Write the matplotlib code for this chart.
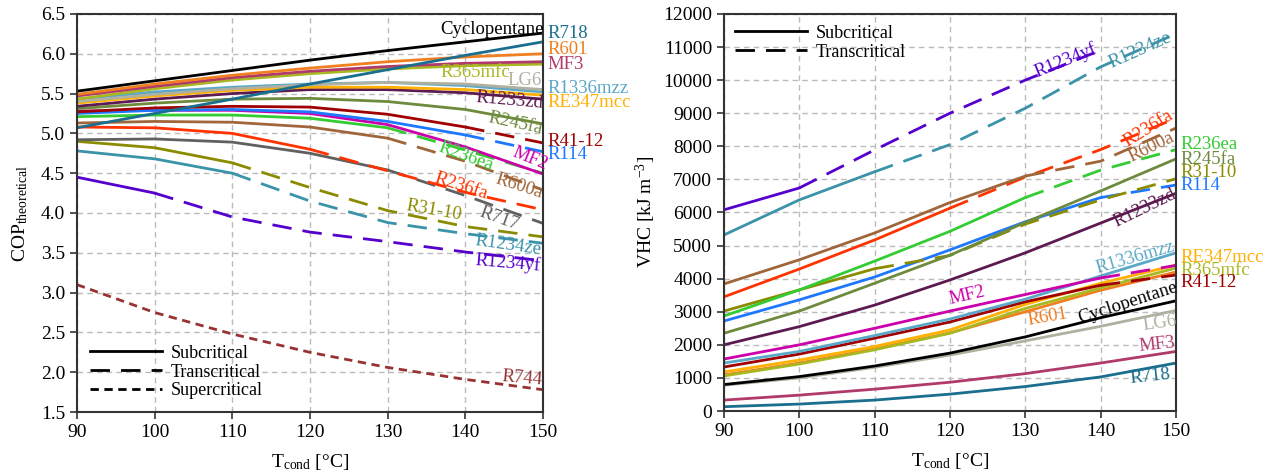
import numpy as np
import matplotlib
matplotlib.use("Agg")
from matplotlib import pyplot as plt

plt.rcParams["font.family"] = ["Liberation Serif", "DejaVu Serif"]
plt.rcParams["mathtext.fontset"] = "custom"
plt.rcParams["mathtext.rm"] = "Liberation Serif"
plt.rcParams["mathtext.it"] = "Liberation Serif:italic"
plt.rcParams["font.size"] = 14

# Temperaturas de condensação
t_cond = [90, 100, 110, 120, 130, 140, 150]

# COP teórico
cop_cyclopentane = [5.53, 5.66, 5.79, 5.92, 6.04, 6.15, 6.26]
cop_r718 = [5.07, 5.25, 5.43, 5.62, 5.80, 5.98, 6.15]
cop_r601 = [5.49, 5.62, 5.73, 5.82, 5.90, 5.96, 6.00]
cop_mf3 = [5.47, 5.59, 5.70, 5.78, 5.84, 5.88, 5.90]
cop_r365mfc = [5.43, 5.56, 5.67, 5.75, 5.81, 5.85, 5.87]
cop_lg6 = [5.40, 5.49, 5.56, 5.61, 5.64, 5.62, 5.55]
cop_r1336mzz = [5.43, 5.52, 5.58, 5.62, 5.64, 5.60, 5.52]
cop_re347mcc = [5.38, 5.47, 5.54, 5.58, 5.58, 5.55, 5.48]
cop_r1233zd = [5.34, 5.43, 5.50, 5.55, 5.55, 5.51, 5.43]
cop_r245fa = [5.31, 5.38, 5.43, 5.44, 5.40, 5.30, 5.12]
cop_r41_12 = [5.27, 5.32, 5.34, 5.33, 5.24, 5.08, 4.88]
cop_r114 = [5.25, 5.29, 5.30, 5.27, 5.15, 4.98, 4.77]
cop_mf2 = [5.28, 5.29, 5.29, 5.25, 5.11, 4.83, 4.49]
cop_r236ea = [5.21, 5.23, 5.23, 5.19, 5.07, 4.79, 4.50]
cop_r600a = [5.13, 5.15, 5.14, 5.08, 4.94, 4.65, 4.29]
cop_r236fa = [5.08, 5.07, 5.00, 4.80, 4.53, 4.26, 4.04]
cop_r717 = [4.92, 4.93, 4.89, 4.75, 4.54, 4.22, 3.87]
cop_r31_10 = [4.90, 4.82, 4.63, 4.32, 4.03, 3.83, 3.70]
cop_r1234ze = [4.78, 4.68, 4.50, 4.15, 3.88, 3.74, 3.62]
cop_r1234yf = [4.45, 4.25, 3.95, 3.76, 3.64, 3.51, 3.40]
cop_r744 = [3.10, 2.75, 2.48, 2.25, 2.06, 1.91, 1.78]

# Capacidade volumétrica de aquecimento [kJ/m3]
vhc_r1234yf = [6080, 6740, 7890, 9000, 10000, 10900, np.nan]
vhc_r1234ze = [5320, 6380, 7230, 8050, 9150, 10400, 11400]
vhc_r600a = [3840, 4570, 5380, 6300, 7100, 7550, 8550]
vhc_r236fa = [3450, 4290, 5170, 6130, 7070, 7900, 8850]
vhc_r236ea = [2870, 3660, 4530, 5430, 6450, 7280, 7900]
vhc_r245fa = [2350, 3020, 3860, 4710, 5700, 6650, 7620]
vhc_r31_10 = [3020, 3660, 4300, 4700, 5650, 6380, 7020]
vhc_r114 = [2720, 3360, 4050, 4870, 5720, 6450, 6830]
vhc_r1233zd = [2000, 2550, 3200, 3960, 4780, 5680, 6580]
vhc_mf2 = [1570, 2000, 2500, 3020, 3520, 4020, 4400]
vhc_r1336mzz = [1450, 1800, 2280, 2780, 3380, 4080, 4780]
vhc_r41_12 = [1330, 1720, 2200, 2690, 3300, 3800, 4110]
vhc_re347mcc = [1180, 1540, 1950, 2450, 3220, 3860, 4410]
vhc_r365mfc = [1060, 1420, 1850, 2350, 3100, 3720, 4320]
vhc_r601 = [1090, 1450, 1880, 2360, 3000, 3650, 4200]
vhc_cyclopentane = [800, 1040, 1360, 1750, 2240, 2820, 3330]
vhc_lg6 = [780, 1000, 1320, 1690, 2120, 2560, 3040]
vhc_mf3 = [330, 480, 660, 870, 1130, 1450, 1800]
vhc_r718 = [130, 210, 330, 510, 740, 1030, 1450]

# Cores de cada fluido
cores = {
    "Cyclopentane": "#000000", "R718": "#1a6e8e", "R601": "#f07f20",
    "MF3": "#b03a6a", "R365mfc": "#a8b820", "LG6": "#b0b0a0",
    "R1336mzz": "#5aa8c8", "RE347mcc": "#ffb000", "R1233zd": "#5c1a50",
    "R245fa": "#6e8b3d", "R41-12": "#a00000", "R114": "#1e78ff",
    "MF2": "#cc00aa", "R236ea": "#33cc33", "R236fa": "#ff3300",
    "R600a": "#a0663a", "R717": "#606060", "R31-10": "#8b8b00",
    "R1234ze": "#3a93a8", "R1234yf": "#5500cc", "R744": "#993333"}

# (nome, dados, temperatura onde começa o transcrítico, "super" p/ supercrítico)
series_cop = [
    ("R744", cop_r744, "super"), ("R1234yf", cop_r1234yf, 100),
    ("R1234ze", cop_r1234ze, 110), ("R31-10", cop_r31_10, 110),
    ("R717", cop_r717, 130), ("R236fa", cop_r236fa, 120),
    ("R600a", cop_r600a, 130), ("R236ea", cop_r236ea, 130),
    ("MF2", cop_mf2, None), ("R114", cop_r114, 140),
    ("R41-12", cop_r41_12, 140), ("R245fa", cop_r245fa, None),
    ("R1233zd", cop_r1233zd, None), ("RE347mcc", cop_re347mcc, None),
    ("R1336mzz", cop_r1336mzz, None), ("LG6", cop_lg6, None),
    ("R365mfc", cop_r365mfc, None), ("MF3", cop_mf3, None),
    ("R601", cop_r601, None), ("R718", cop_r718, None),
    ("Cyclopentane", cop_cyclopentane, None)]

series_vhc = [
    ("R718", vhc_r718, None), ("MF3", vhc_mf3, None), ("LG6", vhc_lg6, None),
    ("Cyclopentane", vhc_cyclopentane, None), ("R601", vhc_r601, None),
    ("R365mfc", vhc_r365mfc, None), ("RE347mcc", vhc_re347mcc, None),
    ("R41-12", vhc_r41_12, 140), ("R1336mzz", vhc_r1336mzz, None),
    ("MF2", vhc_mf2, 140), ("R1233zd", vhc_r1233zd, None),
    ("R114", vhc_r114, 140), ("R31-10", vhc_r31_10, 110),
    ("R245fa", vhc_r245fa, None), ("R236ea", vhc_r236ea, 130),
    ("R236fa", vhc_r236fa, 120), ("R600a", vhc_r600a, 130),
    ("R1234ze", vhc_r1234ze, 110), ("R1234yf", vhc_r1234yf, 100)]

# Rótulos: (nome, x, y, rotação, alinhamento)
rotulos_cop = [
    ("Cyclopentane", 143.5, 6.31, 0, "center"), ("R718", 150.6, 6.25, 0, "left"),
    ("R601", 150.6, 6.05, 0, "left"), ("MF3", 150.6, 5.86, 0, "left"),
    ("R365mfc", 141.3, 5.76, 0, "center"), ("LG6", 147.7, 5.66, 0, "center"),
    ("R1336mzz", 150.6, 5.56, 0, "left"), ("RE347mcc", 150.6, 5.39, 0, "left"),
    ("R1233zd", 145.7, 5.41, -5, "center"), ("R245fa", 146.5, 5.13, -12, "center"),
    ("R41-12", 150.6, 4.90, 0, "left"), ("R114", 150.6, 4.73, 0, "left"),
    ("MF2", 148.4, 4.68, -22, "center"), ("R236ea", 140.1, 4.71, -20, "center"),
    ("R236fa", 139.5, 4.33, -18, "center"), ("R600a", 146.9, 4.34, -18, "center"),
    ("R31-10", 136.0, 4.03, -10, "center"), ("R717", 144.4, 3.93, -20, "center"),
    ("R1234ze", 145.5, 3.59, -8, "center"), ("R1234yf", 145.5, 3.37, -5, "center"),
    ("R744", 147.3, 1.92, -5, "center")]

rotulos_vhc = [
    ("R1234yf", 135.3, 10600, 22, "center"), ("R1234ze", 145.2, 10900, 24, "center"),
    ("R236fa", 146.3, 8550, 32, "center"), ("R600a", 146.8, 7980, 26, "center"),
    ("R236ea", 150.6, 8040, 0, "left"), ("R245fa", 150.6, 7590, 0, "left"),
    ("R31-10", 150.6, 7220, 0, "left"), ("R114", 150.6, 6800, 0, "left"),
    ("R1233zd", 145.9, 6140, 26, "center"), ("R1336mzz", 144.6, 4630, 16, "center"),
    ("RE347mcc", 150.6, 4630, 0, "left"), ("R365mfc", 150.6, 4260, 0, "left"),
    ("R41-12", 150.6, 3870, 0, "left"), ("MF2", 122.3, 3480, 13, "center"),
    ("R601", 133.0, 2840, 10, "center"), ("Cyclopentane", 143.6, 3260, 18, "center"),
    ("LG6", 147.9, 2660, 8, "center"), ("MF3", 147.5, 2000, 6, "center"),
    ("R718", 146.6, 1060, 6, "center")]

TRANS = (0, (7, 4))
SUPER = (0, (3, 2))


def desenha(ax, series):
    x = np.array(t_cond)
    for nome, dados, t0 in series:
        y = np.array(dados, dtype=float)
        cor = cores[nome]
        if t0 == "super":
            ax.plot(x, y, color=cor, lw=2, linestyle=SUPER)
        elif t0 is None:
            ax.plot(x, y, color=cor, lw=2)
        else:
            ax.plot(x[x <= t0], y[x <= t0], color=cor, lw=2)
            ax.plot(x[x >= t0], y[x >= t0], color=cor, lw=2, linestyle=TRANS)


def rotula(ax, rotulos):
    for nome, x, y, rot, ha in rotulos:
        ax.text(x, y, nome, color=cores[nome], rotation=rot, ha=ha, va="center",
                fontsize=13.5, clip_on=False, rotation_mode="anchor")


def estilo(ax):
    ax.grid(True, color="#bbbbbb", linestyle=(0, (4, 3)), linewidth=1)
    ax.set_axisbelow(True)
    for s in ax.spines.values():
        s.set_color("#333333")
        s.set_linewidth(1.5)
    ax.tick_params(direction="out", length=5, width=1.2, labelsize=14, color="#333333")
    ax.set_xlim(90, 150)
    ax.set_xticks(t_cond)
    ax.set_xlabel(r"T$_{\mathrm{cond}}$ [°C]", fontsize=14, labelpad=8)


fig = plt.figure(figsize=(12.82, 4.75), dpi=100)

# Gráfico do COP
ax1 = fig.add_axes([0.060, 0.1326, 0.3635, 0.838])
desenha(ax1, series_cop)
rotula(ax1, rotulos_cop)
estilo(ax1)
ax1.set_ylim(1.5, 6.5)
ax1.set_yticks(np.arange(1.5, 6.51, 0.5))
ax1.yaxis.set_major_formatter(matplotlib.ticker.FormatStrFormatter("%.1f"))
ax1.set_ylabel(r"COP$_{\mathrm{theoretical}}$", fontsize=14, labelpad=8)
h1 = [plt.Line2D([], [], color="black", lw=2),
      plt.Line2D([], [], color="black", lw=2, linestyle=TRANS),
      plt.Line2D([], [], color="black", lw=2, linestyle=SUPER)]
ax1.legend(h1, ["Subcritical", "Transcritical", "Supercritical"], loc="lower left",
           frameon=False, fontsize=13, handlelength=4.0, labelspacing=0.1,
           borderaxespad=0.4, handletextpad=0.5, borderpad=0.3)

# Gráfico do VHC
ax2 = fig.add_axes([0.5647, 0.1347, 0.3526, 0.836])
desenha(ax2, series_vhc)
rotula(ax2, rotulos_vhc)
estilo(ax2)
ax2.set_ylim(0, 12000)
ax2.set_yticks(np.arange(0, 12001, 1000))
ax2.set_ylabel(r"VHC [kJ m$^{-3}$]", fontsize=14, labelpad=4)
h2 = [plt.Line2D([], [], color="black", lw=2),
      plt.Line2D([], [], color="black", lw=2, linestyle=TRANS)]
ax2.legend(h2, ["Subcritical", "Transcritical"], loc="upper left",
           frameon=False, fontsize=13, handlelength=4.0, labelspacing=0.1,
           borderaxespad=0.3, handletextpad=0.5, borderpad=0.3)

fig.savefig("out.png", dpi=100)
